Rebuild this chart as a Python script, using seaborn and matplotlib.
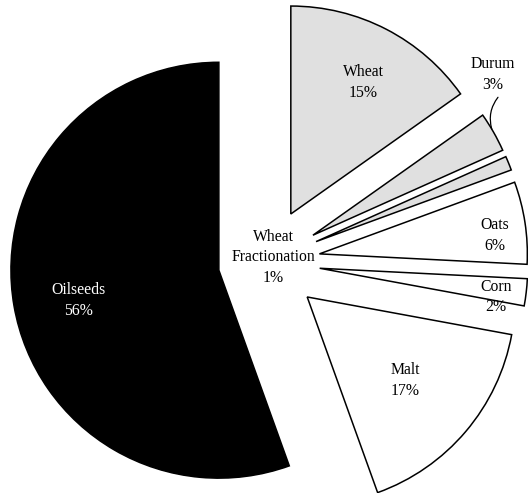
import numpy as np
import matplotlib
matplotlib.use("Agg")
import matplotlib.pyplot as plt
import seaborn as sns

# ---- data ----
categories = ["Wheat", "Durum", "Wheat\nFractionation", "Oats", "Corn", "Malt", "Oilseeds"]
shares = [15.2, 3.1, 1.1, 6.4, 2.1, 16.6, 55.5]
pct_labels = ["15%", "3%", "1%", "6%", "2%", "17%", "56%"]

# ---- styles ----
fills = ["#e0e0e0", "#e0e0e0", "#e0e0e0", "#ffffff", "#ffffff", "#ffffff", "#000000"]
text_colors = ["black"] * 6 + ["white"]
explode = [0.26, 0.26, 0.26, 0.26, 0.26, 0.26, 0.23]
# label placement: (distance from wedge apex in radii, angle offset from mid-angle in degrees)
label_place = [(0.72, -1.5), (1.16, 12), (0.22, 178), (0.85, -2.6), (0.86, -2.6), (0.62, 0), (0.69, 2.4)]

sns.set_theme(style="white")
plt.rcParams["font.family"] = ["Liberation Serif", "DejaVu Serif"]

fig = plt.figure(figsize=(5.28, 4.93), dpi=100)
ax = fig.add_axes([0, 0, 1, 1])

wedges, _ = ax.pie(
    shares,
    startangle=90,
    counterclock=False,
    colors=fills,
    explode=explode,
    radius=1.0,
    wedgeprops=dict(edgecolor="black", linewidth=1.1),
)

for i, w in enumerate(wedges):
    cx, cy = w.center
    mid = np.deg2rad((w.theta1 + w.theta2) / 2 + label_place[i][1])
    d = label_place[i][0] * w.r
    x, y = cx + d * np.cos(mid), cy + d * np.sin(mid)
    ax.text(x, y, f"{categories[i]}\n{pct_labels[i]}", ha="center", va="center",
            fontsize=11.3, color=text_colors[i], linespacing=1.4)

# leader line for Durum
w = wedges[1]
cx, cy = w.center
m = (w.theta1 + w.theta2) / 2
a0 = np.deg2rad(m + 1.0)
a1 = np.deg2rad(m + 7.0)
ax.annotate("", xy=(cx + 1.0 * np.cos(a0), cy + 1.0 * np.sin(a0)),
            xytext=(cx + 1.11 * np.cos(a1), cy + 1.11 * np.sin(a1)),
            arrowprops=dict(arrowstyle="-", color="black", lw=0.9,
                            connectionstyle="arc3,rad=0.25", shrinkA=0, shrinkB=0))

ax.set_xlim(-1.279, 1.260)
ax.set_ylim(-1.111, 1.260)
ax.set_aspect("equal")
ax.axis("off")

fig.savefig("out.png", dpi=100, facecolor="white")
